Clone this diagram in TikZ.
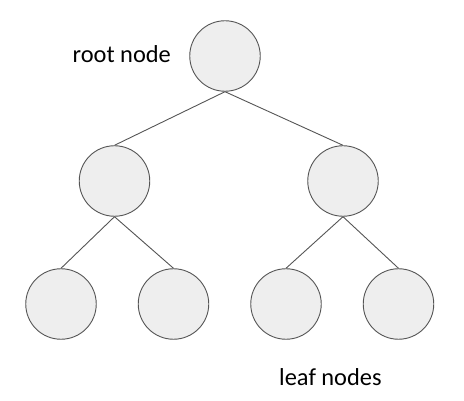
\documentclass[tikz,border=0pt]{standalone}
\usepackage{fontspec}
\setmainfont{Carlito}
\definecolor{nodefill}{HTML}{EEEEEE}
\definecolor{nodeline}{HTML}{555555}
\begin{document}
\begin{tikzpicture}[x=1pt,y=-1pt,
  treenode/.style={circle,draw=nodeline,fill=nodefill,line width=0.9pt,minimum size=70.5pt,inner sep=0pt},
  edge/.style={draw=nodeline,line width=0.9pt},
  lbl/.style={font=\fontsize{24.4}{28}\selectfont,inner sep=0pt,anchor=base west}]
\useasboundingbox (0,0) rectangle (464,401);
\node[treenode] (r) at (225,56) {};
\node[treenode] (a) at (114.5,181) {};
\node[treenode] (b) at (343,181) {};
\node[treenode] (a1) at (61,304) {};
\node[treenode] (a2) at (173.5,304) {};
\node[treenode] (b1) at (286,304) {};
\node[treenode] (b2) at (398.5,304) {};
\draw[edge] (r.south) -- (a.north);
\draw[edge] (r.south) -- (b.north);
\draw[edge] (a.south) -- (a1.north);
\draw[edge] (a.south) -- (a2.north);
\draw[edge] (b.south) -- (b1.north);
\draw[edge] (b.south) -- (b2.north);
\node[lbl] (rt) at (72.5,62.3) {root node};
\node[lbl] (lf) at (279,385.7) {leaf nodes};
\end{tikzpicture}
\end{document}
